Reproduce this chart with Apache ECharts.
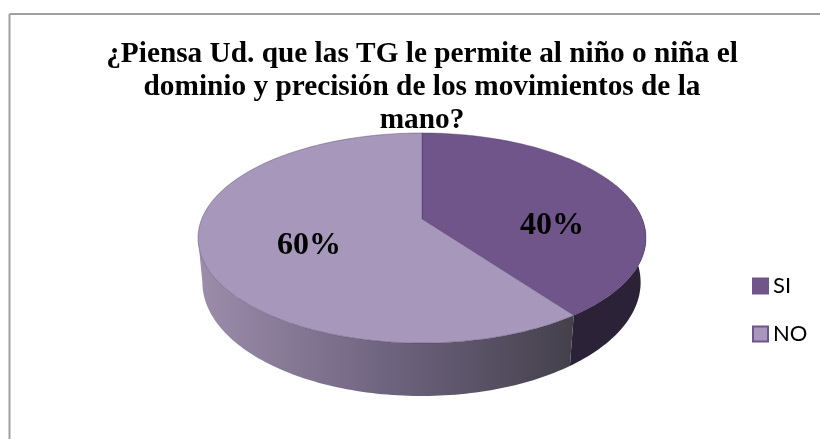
<!DOCTYPE html>
<html>
<head>
<meta charset="utf-8">
<style>
  html, body { margin: 0; padding: 0; background: #fff; }
  #chart { width: 820px; height: 439px; }
</style>
<script src="https://cdn.jsdelivr.net/npm/echarts@6/dist/echarts.min.js"></script>
</head>
<body>
<div id="chart"></div>
<script>
const categories = ["SI", "NO"];
const values = [40, 60];
const percentLabels = ["40%", "60%"];
const titleText = "¿Piensa Ud. que las TG le permite al niño o niña el\ndominio y precisión de los movimientos de la\nmano?";

const topColors = ["#70558b", "#a697bb"];
const total = values.reduce((a, b) => a + b, 0);

// perspectiva del disco: el lado de atras se ve mas corto
const P = 0.181;
const topDisc = { cx: 422, cy: 219, rx: 220.3, ry: 101.6 };
const baseDisc = { cx: 421.5, cy: 261.7, rx: 215.5, ry: 110 };

const project = (disc, angle) => {
  const u = Math.sin(angle);
  const v = -Math.cos(angle);
  const w = 1 - P * v;
  return [disc.cx + (disc.rx * u) / w, disc.cy + (disc.ry * v) / w];
};

const arc = (disc, from, to) => {
  const steps = Math.max(2, Math.ceil(Math.abs(to - from) / 0.02));
  const pts = [];
  for (let i = 0; i <= steps; i++) {
    pts.push(project(disc, from + ((to - from) * i) / steps));
  }
  return pts;
};

// angulo donde se ve el borde del disco a derecha e izquierda
const EDGE_RIGHT = Math.acos(-P);
const EDGE_LEFT = 2 * Math.PI - EDGE_RIGHT;

const sliceRange = (index) => {
  let sum = 0;
  for (let i = 0; i < index; i++) sum += values[i];
  return [(sum / total) * 2 * Math.PI, ((sum + values[index]) / total) * 2 * Math.PI];
};

const sideFills = [
  "#2c2238",
  {
    type: "linear", x: 0, y: 0, x2: 1, y2: 0,
    colorStops: [
      { offset: 0, color: "#9c8dab" },
      { offset: 0.5, color: "#6f6480" },
      { offset: 1, color: "#44404b" },
    ],
  },
];

const labelSpots = [[552, 226], [309, 246]];

const renderSlice = (index) => () => {
  const [start, end] = sliceRange(index);
  const sideFrom = Math.max(start, Math.min(EDGE_RIGHT, end));
  const sideTo = Math.min(end, EDGE_LEFT);
  const children = [];
  const from = index === 0 ? EDGE_RIGHT - 0.35 : sideFrom;
  const to = index === 0 ? end : sideTo;
  children.push({
    type: "polygon",
    shape: { points: arc(topDisc, from, to).concat(arc(baseDisc, to, from)) },
    style: { fill: sideFills[index] },
  });
  const top = [[topDisc.cx, topDisc.cy]].concat(arc(topDisc, start, end));
  children.push({
    type: "polygon",
    shape: { points: top },
    style: { fill: topColors[index], stroke: "rgba(70,50,95,0.55)", lineWidth: 0.7 },
  });
  children.push({
    type: "text",
    style: {
      x: labelSpots[index][0],
      y: labelSpots[index][1],
      text: percentLabels[index],
      fill: "#000",
      font: 'bold 32px "Liberation Serif"',
      align: "center",
      verticalAlign: "middle",
    },
  });
  return { type: "group", children };
};

const chart = echarts.init(document.getElementById("chart"), null, { renderer: "canvas" });

chart.setOption({
  animation: false,
  backgroundColor: "#fff",
  title: {
    text: titleText,
    left: 417,
    top: 33,
    textAlign: "center",
    textStyle: {
      fontFamily: "Liberation Serif",
      fontWeight: "bold",
      fontSize: 29.3,
      lineHeight: 33,
      color: "#000",
    },
  },
  legend: {
    orient: "vertical",
    left: 747,
    top: 270,
    itemWidth: 15,
    itemHeight: 15,
    itemGap: 26,
    icon: "rect",
    data: categories.map((name, i) => ({
      name,
      itemStyle: { color: topColors[i], borderColor: "#70558b", borderWidth: 2 },
    })),
    textStyle: { fontFamily: "Lato", fontSize: 22, lineHeight: 15, color: "#000" },
  },
  graphic: [
    {
      type: "line",
      silent: true,
      shape: { x1: 9.5, y1: 14, x2: 820, y2: 14 },
      style: { stroke: "#a0a0a0", lineWidth: 2 },
    },
    {
      type: "line",
      silent: true,
      shape: { x1: 9.5, y1: 14, x2: 9.5, y2: 439 },
      style: { stroke: "#a0a0a0", lineWidth: 2 },
    },
  ],
  series: categories.map((name, i) => ({
    type: "custom",
    name,
    coordinateSystem: "none",
    silent: true,
    itemStyle: { color: topColors[i] },
    data: [values[i]],
    renderItem: renderSlice(i),
  })),
});
</script>
</body>
</html>
